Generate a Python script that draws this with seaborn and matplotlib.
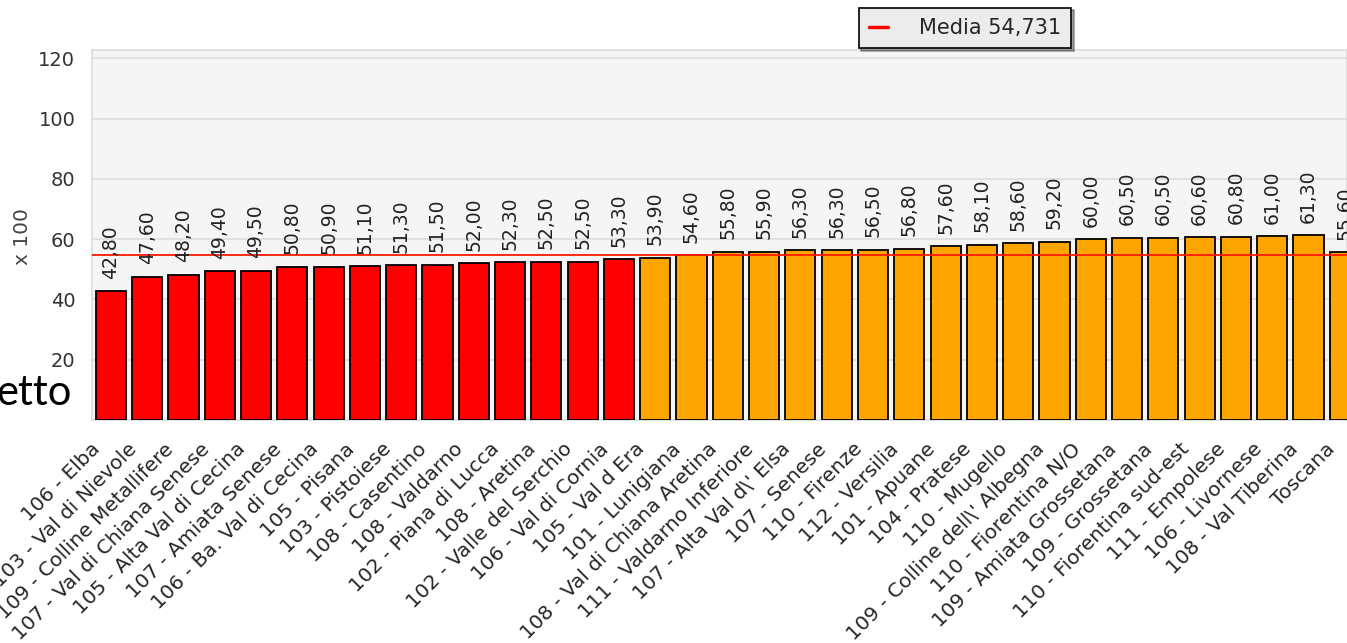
import matplotlib
matplotlib.use("Agg")
import matplotlib.pyplot as plt
import matplotlib.transforms as mtransforms
from matplotlib.lines import Line2D
import seaborn as sns

# data
zone = ["106 - Elba", "103 - Val di Nievole", "109 - Colline Metallifere",
        "107 - Val di Chiana Senese", "105 - Alta Val di Cecina", "107 - Amiata Senese",
        "106 - Ba. Val di Cecina", "105 - Pisana", "103 - Pistoiese", "108 - Casentino",
        "108 - Valdarno", "102 - Piana di Lucca", "108 - Aretina", "102 - Valle del Serchio",
        "106 - Val di Cornia", "105 - Val d Era", "101 - Lunigiana",
        "108 - Val di Chiana Aretina", "111 - Valdarno Inferiore", "107 - Alta Val d\\' Elsa",
        "107 - Senese", "110 - Firenze", "112 - Versilia", "101 - Apuane", "104 - Pratese",
        "110 - Mugello", "109 - Colline dell\\' Albegna", "110 - Fiorentina N/O",
        "109 - Amiata Grossetana", "109 - Grossetana", "110 - Fiorentina sud-est",
        "111 - Empolese", "106 - Livornese", "108 - Val Tiberina", "Toscana"]
valori = [42.8, 47.6, 48.2, 49.4, 49.5, 50.8, 50.9, 51.1, 51.3, 51.5, 52.0, 52.3, 52.5,
          52.5, 53.3, 53.9, 54.6, 55.8, 55.9, 56.3, 56.3, 56.5, 56.8, 57.6, 58.1, 58.6,
          59.2, 60.0, 60.5, 60.5, 60.6, 60.8, 61.0, 61.3, 55.6]
n_sotto = 15  # first bars drawn in red
media = 54.731

colori = ["#ff0000"] * n_sotto + ["#ffa500"] * (len(valori) - n_sotto)

sns.set_style("white")
plt.rcParams['font.family'] = ['DejaVu Sans']

fig = plt.figure(figsize=(13.47, 6.43), dpi=100)
ax = fig.add_axes([92 / 1347, 1 - 420 / 643, 1 - 92 / 1347, 370 / 643])
ax.set_facecolor("#f5f5f5")

sns.barplot(x=zone, y=valori, hue=zone, palette=colori, legend=False,
            width=0.83, edgecolor="black", linewidth=1.3, saturation=1, ax=ax, zorder=3)

for i, v in enumerate(valori):
    ax.annotate(f"{v:.2f}".replace(".", ","), (i, v), xytext=(0, 9),
                textcoords="offset points", rotation=90, ha="center", va="bottom",
                fontsize=13.5, color="#222222", zorder=5)

ax.axhline(media, color="#ff1a00", lw=1.3, zorder=4)

ax.set_ylim(0, 122.8)
ax.set_xlim(-0.52, 34.06)
ax.set_yticks([20, 40, 60, 80, 100, 120])
ax.yaxis.grid(True, color="#dddddd", lw=1.2, zorder=0)
ax.set_axisbelow(True)
for s in ax.spines.values():
    s.set_color("#dcdcdc")
    s.set_linewidth(1.2)
ax.tick_params(axis="y", length=0, labelsize=14, labelcolor="#333333", pad=12)
ax.tick_params(axis="x", length=0, labelsize=14.5, pad=14)
plt.setp(ax.get_xticklabels(), rotation=45, ha="right", rotation_mode="anchor")
sposta = mtransforms.ScaledTranslation(-0.2, 0, fig.dpi_scale_trans)
for lab in ax.get_xticklabels():
    lab.set_transform(lab.get_transform() + sposta)
ax.set_ylabel("x 100", fontsize=14.5, color="#444444")
ax.yaxis.set_label_coords(-0.048, 0.495)
ax.set_xlabel("")

leg = fig.legend(handles=[Line2D([], [], color="red", lw=2.5)], labels=["Media 54,731"],
                 loc="center", bbox_to_anchor=(965 / 1347, 1 - 28 / 643), fontsize=15,
                 frameon=True, fancybox=False, shadow=True, handlelength=0.9,
                 handletextpad=1.5, borderpad=0.5, borderaxespad=0)
leg.get_frame().set_facecolor("#ececec")
leg.get_frame().set_edgecolor("black")
leg.get_frame().set_linewidth(1.2)

# leftover slide text at the left edge
fig.text(72 / 1347, 1 - 405 / 643, "etto", fontsize=30, family="Lato",
         ha="right", va="baseline", color="black")

fig.savefig("out.png", dpi=100)
